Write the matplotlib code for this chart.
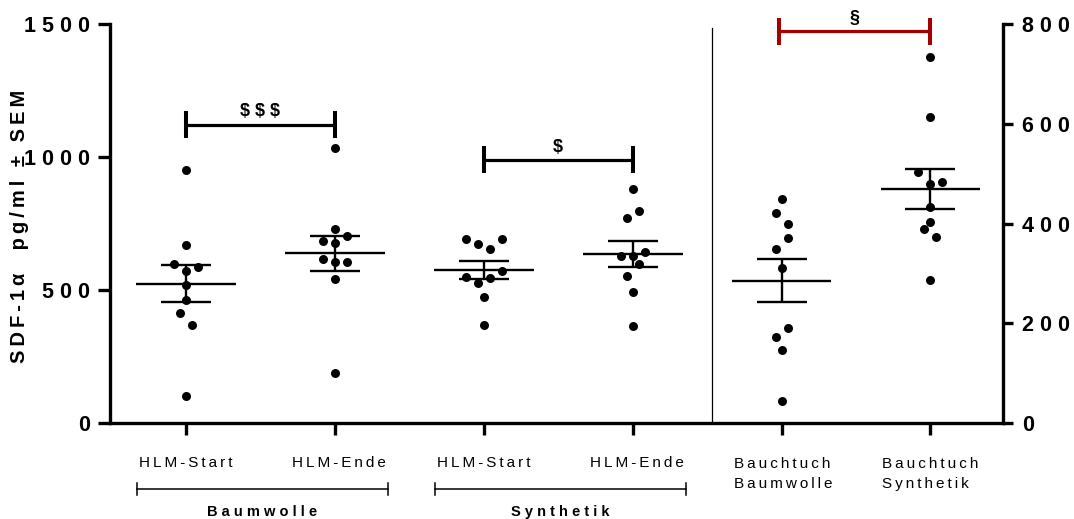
import matplotlib
matplotlib.use('Agg')
import matplotlib.pyplot as plt
import numpy as np

plt.rcParams['font.family'] = ['Liberation Sans', 'DejaVu Sans']

# ---------------- data ----------------
categories = ['HLM-Start', 'HLM-Ende', 'HLM-Start', 'HLM-Ende',
              'Bauchtuch\nBaumwolle', 'Bauchtuch\nSynthetik']
group_labels = ['Baumwolle', 'Synthetik']

baum_start = [953, 668, 597, 585, 572, 518, 462, 414, 370, 103]
baum_ende = [1035, 731, 683, 702, 675, 616, 606, 606, 540, 189]
syn_start = [691, 672, 653, 691, 573, 548, 528, 544, 474, 370]
syn_ende = [881, 796, 772, 641, 627, 627, 597, 553, 491, 364]
bauch_baum = [450, 422, 399, 371, 349, 311, 190, 172, 147, 45]   # right axis
bauch_syn = [734, 613, 503, 480, 483, 434, 404, 388, 373, 286]   # right axis

left_ticks = [0, 500, 1000, 1500]
right_ticks = [0, 200, 400, 600, 800]

sig_labels = ['$$$', '$', '§']
sig_levels = [1122, 990, 785]      # first two on left axis, third on right axis

y_label = 'SDF-1α  pg/ml ± SEM'

# ---------------- layout ----------------
xpos = [0, 1, 2, 3, 4, 5]
step = 0.0806
swarm = [
    [0, 0, -1, 1, 0, 0, 0, -0.5, 0.5, 0],
    [0, 0, -1, 1, 0, -1, 0, 1, 0, 0],
    [-1.5, -0.5, 0.5, 1.5, 1.5, -1.5, -0.5, 0.5, 0, 0],
    [0, 0.5, -0.5, 1, -1, 0, 0.5, -0.5, 0, 0],
    [0, -0.5, 0.5, 0.5, -0.5, 0, 0.5, -0.5, 0, 0],
    [0, 0, -1, 0, 1, 0, 0, -0.5, 0.5, 0],
]
THIN = '\u2009'


def sp(s, sep=THIN):
    return '\n'.join(sep.join(line) for line in s.split('\n'))


fig = plt.figure(figsize=(10.74, 5.19), dpi=100)
ax = fig.add_axes([110 / 1074, (519 - 423) / 519, (1002.7 - 110) / 1074, 399 / 519])
ax2 = ax.twinx()

ax.set_xlim(-0.51, 5.485)
ax.set_ylim(0, 1500)
ax2.set_ylim(0, 800)

for a in (ax, ax2):
    a.spines['top'].set_visible(False)
    a.patch.set_visible(False)
ax.spines['right'].set_visible(False)
ax2.spines['left'].set_visible(False)
ax2.spines['bottom'].set_visible(False)
for s in ('left', 'bottom'):
    ax.spines[s].set_linewidth(2.4)
ax2.spines['right'].set_linewidth(2.4)

ax.set_yticks(left_ticks, labels=[sp(str(t), ' ') for t in left_ticks])
ax2.set_yticks(right_ticks, labels=[sp(str(t), ' ') for t in right_ticks])
ax.tick_params(axis='y', length=8.6, width=2.4, pad=5.5, labelsize=15.5)
ax2.tick_params(axis='y', length=7, width=2.4, pad=7, labelsize=15.5)
for lab in ax.get_yticklabels() + ax2.get_yticklabels():
    lab.set_fontweight('bold')
ax.set_xticks(xpos, labels=[''] * len(xpos))
ax.tick_params(axis='x', length=8.6, width=2.4)

series = [baum_start, baum_ende, syn_start, syn_ende, bauch_baum, bauch_syn]
axes_for = [ax, ax, ax, ax, ax2, ax2]
for i, (vals, a) in enumerate(zip(series, axes_for)):
    v = np.array(vals, dtype=float)
    xs = xpos[i] + np.array(swarm[i]) * step
    a.scatter(xs, v, s=42, color='black', zorder=3, linewidths=0, clip_on=False)
    m = v.mean()
    se = v.std(ddof=1) / np.sqrt(len(v))
    a.hlines(m, xpos[i] - 0.335, xpos[i] + 0.335, color='black', lw=1.7, zorder=4)
    a.vlines(xpos[i], m - se, m + se, color='black', lw=1.7, zorder=4)
    a.hlines([m - se, m + se], xpos[i] - 0.168, xpos[i] + 0.168, color='black', lw=1.7, zorder=4)

# divider line
ax.axvline(3.532, ymin=0, ymax=0.99, color='black', lw=0.9)

# significance brackets
def bracket(a, x0, x1, y, half, label, color):
    a.plot([x0, x1], [y, y], color=color, lw=2.3, clip_on=False, solid_capstyle='butt')
    a.plot([x0, x0], [y - half, y + half], color=color, lw=2.9, clip_on=False, solid_capstyle='butt')
    a.plot([x1, x1], [y - half, y + half], color=color, lw=2.9, clip_on=False, solid_capstyle='butt')
    a.text((x0 + x1) / 2, y + half * 0.3, sp(label, ' '), ha='center', va='bottom',
           fontsize=13, fontweight='bold', color='black', parse_math=False)

bracket(ax, xpos[0], xpos[1], sig_levels[0], 52, sig_labels[0], 'black')
bracket(ax, xpos[2], xpos[3], sig_levels[1], 52, sig_labels[1], 'black')
bracket(ax2, xpos[4] - 0.015, xpos[5], sig_levels[2], 27, sig_labels[2], '#A50000')

# category labels
tr = ax.get_xaxis_transform()
for i, c in enumerate(categories):
    if '\n' in c:
        ax.text(xpos[i] + (0.01 if i == 4 else 0.0), -0.129, sp(c), transform=tr, ha='center',
                va='center', fontsize=11, multialignment='left', linespacing=1.55)
    else:
        ax.text(xpos[i] + (0.0 if i % 2 == 0 else 0.03), -0.100, sp(c), transform=tr,
                ha='center', va='center', fontsize=11)

# group brackets
for g, (x0, x1) in enumerate([(xpos[0], xpos[1]), (xpos[2], xpos[3])]):
    lx0, lx1 = x0 - 0.33, x1 + 0.357
    ax.plot([lx0, lx1], [-0.165, -0.165], transform=tr, color='black', lw=1.1, clip_on=False)
    for xx in (lx0, lx1):
        ax.plot([xx, xx], [-0.15, -0.18], transform=tr, color='black', lw=1.1, clip_on=False)
    ax.text((lx0 + lx1) / 2, -0.222, sp(group_labels[g], ' '), transform=tr, ha='center',
            va='center', fontsize=10.5, fontweight='bold')

fig.text(20 / 1074, (519 - 226.5) / 519, sp(y_label), rotation=90, ha='center', va='center',
         fontsize=14.5, fontweight='bold')

fig.savefig('out.png', dpi=100)
